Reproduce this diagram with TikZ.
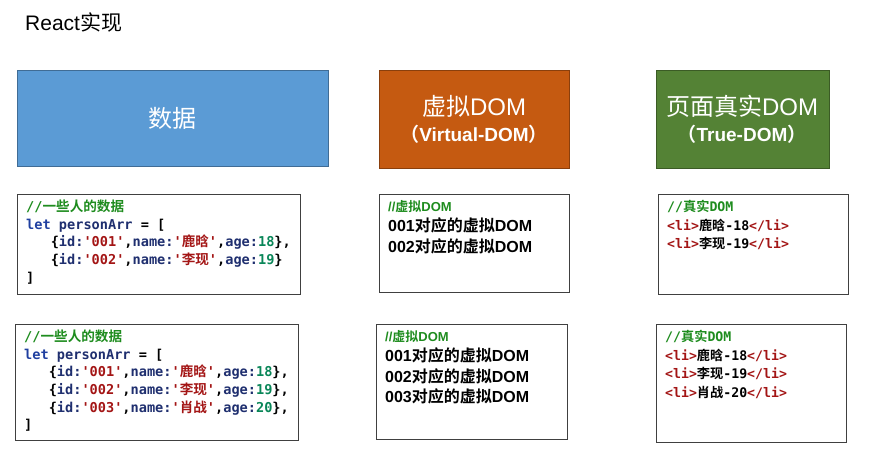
\documentclass[tikz,border=0pt]{standalone}
\usepackage{fontspec}
\setmainfont{Liberation Sans}
\setmonofont{DejaVu Sans Mono}
\newfontfamily\cjk{Noto Sans CJK SC}[BoldFont=* Bold]
\newcommand{\zh}[1]{{\cjk #1}}
\definecolor{cblue}{HTML}{5B9BD5}
\definecolor{corange}{HTML}{C55A11}
\definecolor{cgreen}{HTML}{548235}
\definecolor{cmt}{HTML}{1E8C1E}
\definecolor{kw}{HTML}{2040A0}
\definecolor{var}{HTML}{1F2F6F}
\definecolor{str}{HTML}{A31515}
\definecolor{num}{HTML}{098658}
\newcommand{\cm}[1]{\textcolor{cmt}{#1}}
\newcommand{\st}[1]{\textcolor{str}{#1}}
\newcommand{\nm}[1]{\textcolor{num}{#1}}
\newcommand{\kv}[1]{\textcolor{var}{#1}}
\newcommand{\tg}[1]{\textcolor{str}{#1}}
\begin{document}
\begin{tikzpicture}[x=1pt,y=-1pt,
  code/.style={draw=black!75,line width=0.8pt},
  txt/.style={anchor=north west,align=left,inner sep=0pt,font=\ttfamily\bfseries\fontsize{13.6}{17.6}\selectfont},
  rtxt/.style={anchor=north west,align=left,inner sep=0pt,font=\ttfamily\bfseries\fontsize{13.2}{18.5}\selectfont},
  dtxt/.style={anchor=north west,align=left,inner sep=0pt,font=\bfseries\fontsize{16}{20.5}\selectfont},
  htxt/.style={text=white,align=center,font=\fontsize{24}{30}\selectfont}]
\useasboundingbox (0,0) rectangle (869,456);
\node[anchor=west,inner sep=0pt,font=\fontsize{21}{22}\selectfont] (title) at (25,22) {React\zh{实现}};
% header boxes
\fill[cblue,draw=cblue!70!black] (17,70) rectangle (328,166);
\node[htxt] (h1) at (172,118) {\zh{数据}};
\fill[corange,draw=corange!70!black] (379,70) rectangle (569,168);
\node[htxt] (h2) at (474,119) {\zh{虚拟}DOM\\[-4pt]\fontsize{19}{24}\selectfont\bfseries \zh{（}Virtual-DOM\zh{）}};
\fill[cgreen,draw=cgreen!70!black] (656,70) rectangle (829,168);
\node[htxt] (h3) at (742,119) {\zh{页面真实}DOM\\[-4pt]\fontsize{19}{24}\selectfont\bfseries \zh{（}True-DOM\zh{）}};
% code boxes
\draw[code] (17,194) rectangle (300,294);
\node[txt] (c1) at (26,200) {\cm{//\zh{\bfseries 一些人的数据}}\\
\textcolor{kw}{let} \kv{personArr} = [\\
\ \ \ \{\kv{id:}\st{'001'},\kv{name:}\st{'\zh{\bfseries 鹿晗}'},\kv{age:}\nm{18}\},\\
\ \ \ \{\kv{id:}\st{'002'},\kv{name:}\st{'\zh{\bfseries 李现}'},\kv{age:}\nm{19}\}\\
]};
\draw[code] (15,324) rectangle (298,440);
\node[txt] (c2) at (24,330) {\cm{//\zh{\bfseries 一些人的数据}}\\
\textcolor{kw}{let} \kv{personArr} = [\\
\ \ \ \{\kv{id:}\st{'001'},\kv{name:}\st{'\zh{\bfseries 鹿晗}'},\kv{age:}\nm{18}\},\\
\ \ \ \{\kv{id:}\st{'002'},\kv{name:}\st{'\zh{\bfseries 李现}'},\kv{age:}\nm{19}\},\\
\ \ \ \{\kv{id:}\st{'003'},\kv{name:}\st{'\zh{\bfseries 肖战}'},\kv{age:}\nm{20}\},\\
]};
\draw[code] (379,194) rectangle (569,292);
\node[dtxt] (v1) at (388,200) {\cm{\fontsize{13}{14}\selectfont //\zh{虚拟}DOM}\\
001\zh{对应的虚拟}DOM\\002\zh{对应的虚拟}DOM};
\draw[code] (376,324) rectangle (567,439);
\node[dtxt] (v2) at (385,330) {\cm{\fontsize{13}{14}\selectfont //\zh{虚拟}DOM}\\
001\zh{对应的虚拟}DOM\\002\zh{对应的虚拟}DOM\\003\zh{对应的虚拟}DOM};
\draw[code] (658,194) rectangle (848,294);
\node[rtxt] (r1) at (667,200) {\cm{//\zh{\bfseries 真实}DOM}\\
\tg{<li>}\zh{\bfseries 鹿晗}-18\tg{</li>}\\\tg{<li>}\zh{\bfseries 李现}-19\tg{</li>}};
\draw[code] (656,324) rectangle (846,442);
\node[rtxt] (r2) at (665,330) {\cm{//\zh{\bfseries 真实}DOM}\\
\tg{<li>}\zh{\bfseries 鹿晗}-18\tg{</li>}\\\tg{<li>}\zh{\bfseries 李现}-19\tg{</li>}\\\tg{<li>}\zh{\bfseries 肖战}-20\tg{</li>}};
\end{tikzpicture}
\end{document}
